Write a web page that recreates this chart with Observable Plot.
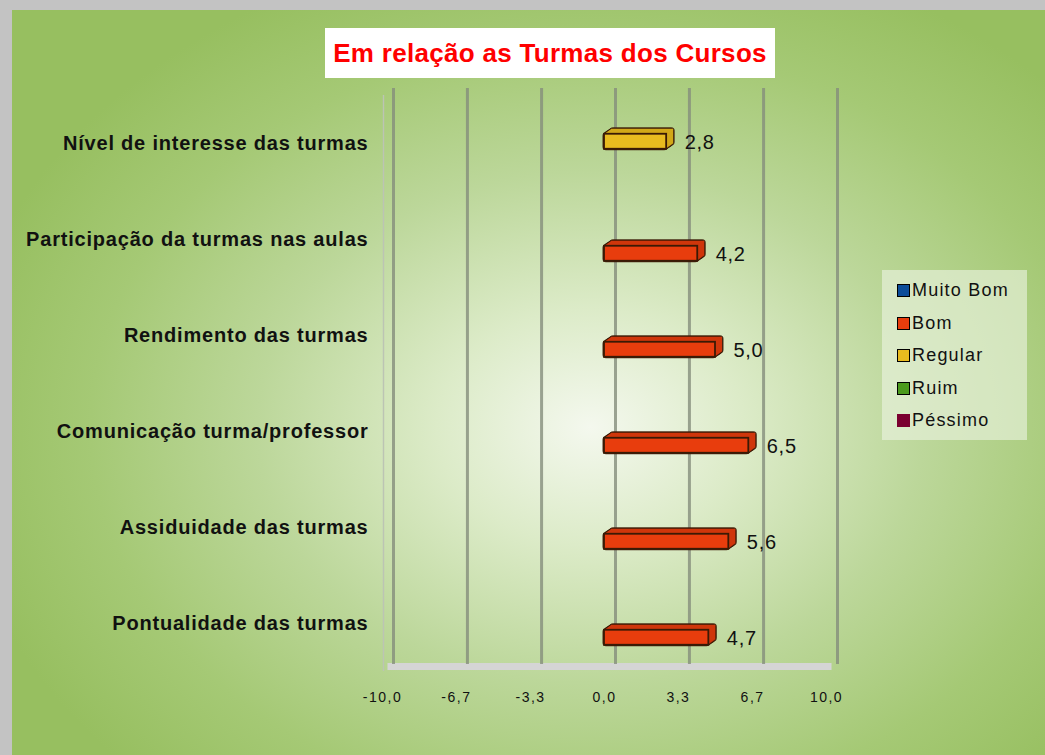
<!DOCTYPE html>
<html>
<head>
<meta charset="utf-8">
<script src="https://cdn.jsdelivr.net/npm/d3@7"></script>
<script src="https://cdn.jsdelivr.net/npm/@observablehq/plot@0.6"></script>
<style>
  body { margin: 0; font-family: "Liberation Sans", Arial, sans-serif; }
  #root { position: relative; width: 1045px; height: 755px; background: #c3c3c3; overflow: hidden; }
  #bg { position: absolute; left: 12px; top: 10px; right: 0; bottom: 0;
        background: radial-gradient(ellipse 62% 66% at 56% 56%, #f4f8ee 0%, #dcebc8 24%, #bcd79a 52%, #a5c975 78%, #97bf60 100%); }
  #chart { position: absolute; left: 0; top: 0; }
  #title { position: absolute; left: 325px; top: 28px; width: 450px; height: 50px; background: #fff;
           color: #ff0000; font-weight: bold; font-size: 26px; letter-spacing: 0.3px;
           display: flex; align-items: center; justify-content: center; }
  #legend { position: absolute; left: 882px; top: 270px; width: 145px; height: 170px;
            background: rgba(236, 244, 226, 0.62); }
  .li { position: absolute; left: 15px; display: flex; align-items: center; font-size: 18px; letter-spacing: 1.2px; color: #111; }
  .sw { width: 11px; height: 11px; border: 1px solid #000; margin-right: 2px; }
</style>
</head>
<body>
<div id="root">
  <div id="bg"></div>
  <div id="chart"></div>
  <div id="title"></div>
  <div id="legend"></div>
</div>
<script>
// ---- data ----
const chartTitle = "Em relação as Turmas dos Cursos";
const categories = [
  "Nível de interesse das turmas",
  "Participação da turmas nas aulas",
  "Rendimento das turmas",
  "Comunicação turma/professor",
  "Assiduidade das turmas",
  "Pontualidade das turmas"
];
const values = [2.8, 4.2, 5.0, 6.5, 5.6, 4.7];
const valueSeries = ["Regular", "Bom", "Bom", "Bom", "Bom", "Bom"];
const seriesNames = ["Muito Bom", "Bom", "Regular", "Ruim", "Péssimo"];
const xTicks = [-10, -6.67, -3.33, 0, 3.33, 6.67, 10];
const xTickLabels = ["-10,0", "-6,7", "-3,3", "0,0", "3,3", "6,7", "10,0"];

// ---- styles ----
const seriesColors = ["#0b4d9a", "#e83d0d", "#e9bb1f", "#4b9a1c", "#7a0030"];
const topColors = ["#0a4280", "#cf360b", "#d2a818", "#3f8418", "#650026"];
const sideColors = ["#062a55", "#9a2706", "#9c7c0c", "#2a5a0e", "#400018"];
const outline = "#3a1a05";

const data = categories.map((c, i) => ({category: c, value: values[i], series: valueSeries[i]}));

const W = 1045, H = 755, mT = 95, mB = 84, mL = 382, mR = 219;
const bw = (H - mT - mB) / categories.length;   // band height
const slot = 16, faceH = 15, depthX = 7, depthY = 5;
const slotOrder = seriesNames.slice().reverse(); // top → bottom within a band
const fmt = v => d3.format(".1f")(v).replace(".", ",");
const steps = d3.range(0, depthX + 0.01, 1);

const marks = [];
// floor
marks.push(Plot.barX([categories[categories.length - 1]], {
  x1: -10, x2: 10, y: d => d, insetTop: bw - 7, dx: 5.5, dy: -1, fill: "#d5d5d5"
}));
// left wall front edge
marks.push(Plot.ruleX([-10], {dx: 1, stroke: "#bcc4b4", strokeWidth: 1.4}));
// back-wall gridlines
marks.push(Plot.ruleX(xTicks, {dx: 11, dy: -7, stroke: "#848d7c", strokeWidth: 3, strokeOpacity: 0.8}));

seriesNames.forEach((s, si) => {
  const sub = data.filter(d => d.series === s);
  if (!sub.length) return;
  const k = slotOrder.indexOf(s);
  const center = bw / 2 + (k - 2) * slot - 1.75;
  const insetTop = center - faceH / 2, insetBottom = bw - center - faceH / 2;
  // extrusion outline
  steps.forEach(i => marks.push(Plot.barX(sub, {x: "value", y: "category", insetTop, insetBottom,
    dx: i, dy: -i * depthY / depthX, fill: outline, stroke: outline, strokeWidth: 3, strokeOpacity: 0.9, rx: 2})));
  // extrusion (top face) fill
  steps.forEach(i => marks.push(Plot.barX(sub, {x: "value", y: "category", insetTop, insetBottom,
    dx: i, dy: -i * depthY / depthX, fill: topColors[si]})));
  // side face
  steps.forEach(i => marks.push(Plot.ruleX(sub, {x: "value", y: "category", insetTop: insetTop + 0.5, insetBottom: insetBottom + 0.5,
    dx: i, dy: -i * depthY / depthX, stroke: sideColors[si], strokeWidth: 1.4})));
  // front face
  marks.push(Plot.barX(sub, {x: "value", y: "category", insetTop, insetBottom,
    fill: "series", stroke: outline, strokeWidth: 1.8}));
  // value labels
  marks.push(Plot.text(sub, {x: "value", y: "category", text: d => fmt(d.value),
    dx: 18, dy: center - bw / 2 + 1, textAnchor: "start", fontSize: 20, fill: "#111"}));
});

marks.push(Plot.axisY({label: null, tickSize: 0, tickPadding: 14, fontSize: 20, fontWeight: "bold", fill: "#111"}));
marks.push(Plot.axisX(xTicks, {label: null, anchor: "bottom", tickSize: 0, tickPadding: 21, fontSize: 14, fill: "#111",
  tickFormat: d => xTickLabels[xTicks.indexOf(d)]}));

const chart = Plot.plot({
  width: W, height: H,
  marginTop: mT, marginBottom: mB, marginLeft: mL, marginRight: mR,
  style: {background: "transparent", fontFamily: "'Liberation Sans', Arial, sans-serif", overflow: "visible"},
  x: {domain: [-10, 10], label: null},
  y: {domain: categories, padding: 0, label: null},
  color: {domain: seriesNames, range: seriesColors},
  marks
});
document.getElementById("chart").appendChild(chart);

// letter spacing tweaks
d3.select(chart).selectAll("g[aria-label='y-axis tick label'] text").style("letter-spacing", "0.8px");
d3.select(chart).selectAll("g[aria-label='x-axis tick label'] text").style("letter-spacing", "1.5px");
d3.select(chart).selectAll("g[aria-label='text'] text").style("letter-spacing", "0.7px");

document.getElementById("title").textContent = chartTitle;

const legend = document.getElementById("legend");
seriesNames.forEach((s, i) => {
  const row = document.createElement("div");
  row.className = "li";
  row.style.top = (10 + i * 32.5) + "px";
  const sw = document.createElement("div");
  sw.className = "sw";
  sw.style.background = seriesColors[i];
  if (s === "Péssimo") sw.style.borderColor = seriesColors[i];
  const t = document.createElement("span");
  t.textContent = s;
  row.appendChild(sw); row.appendChild(t);
  legend.appendChild(row);
});
</script>
</body>
</html>
